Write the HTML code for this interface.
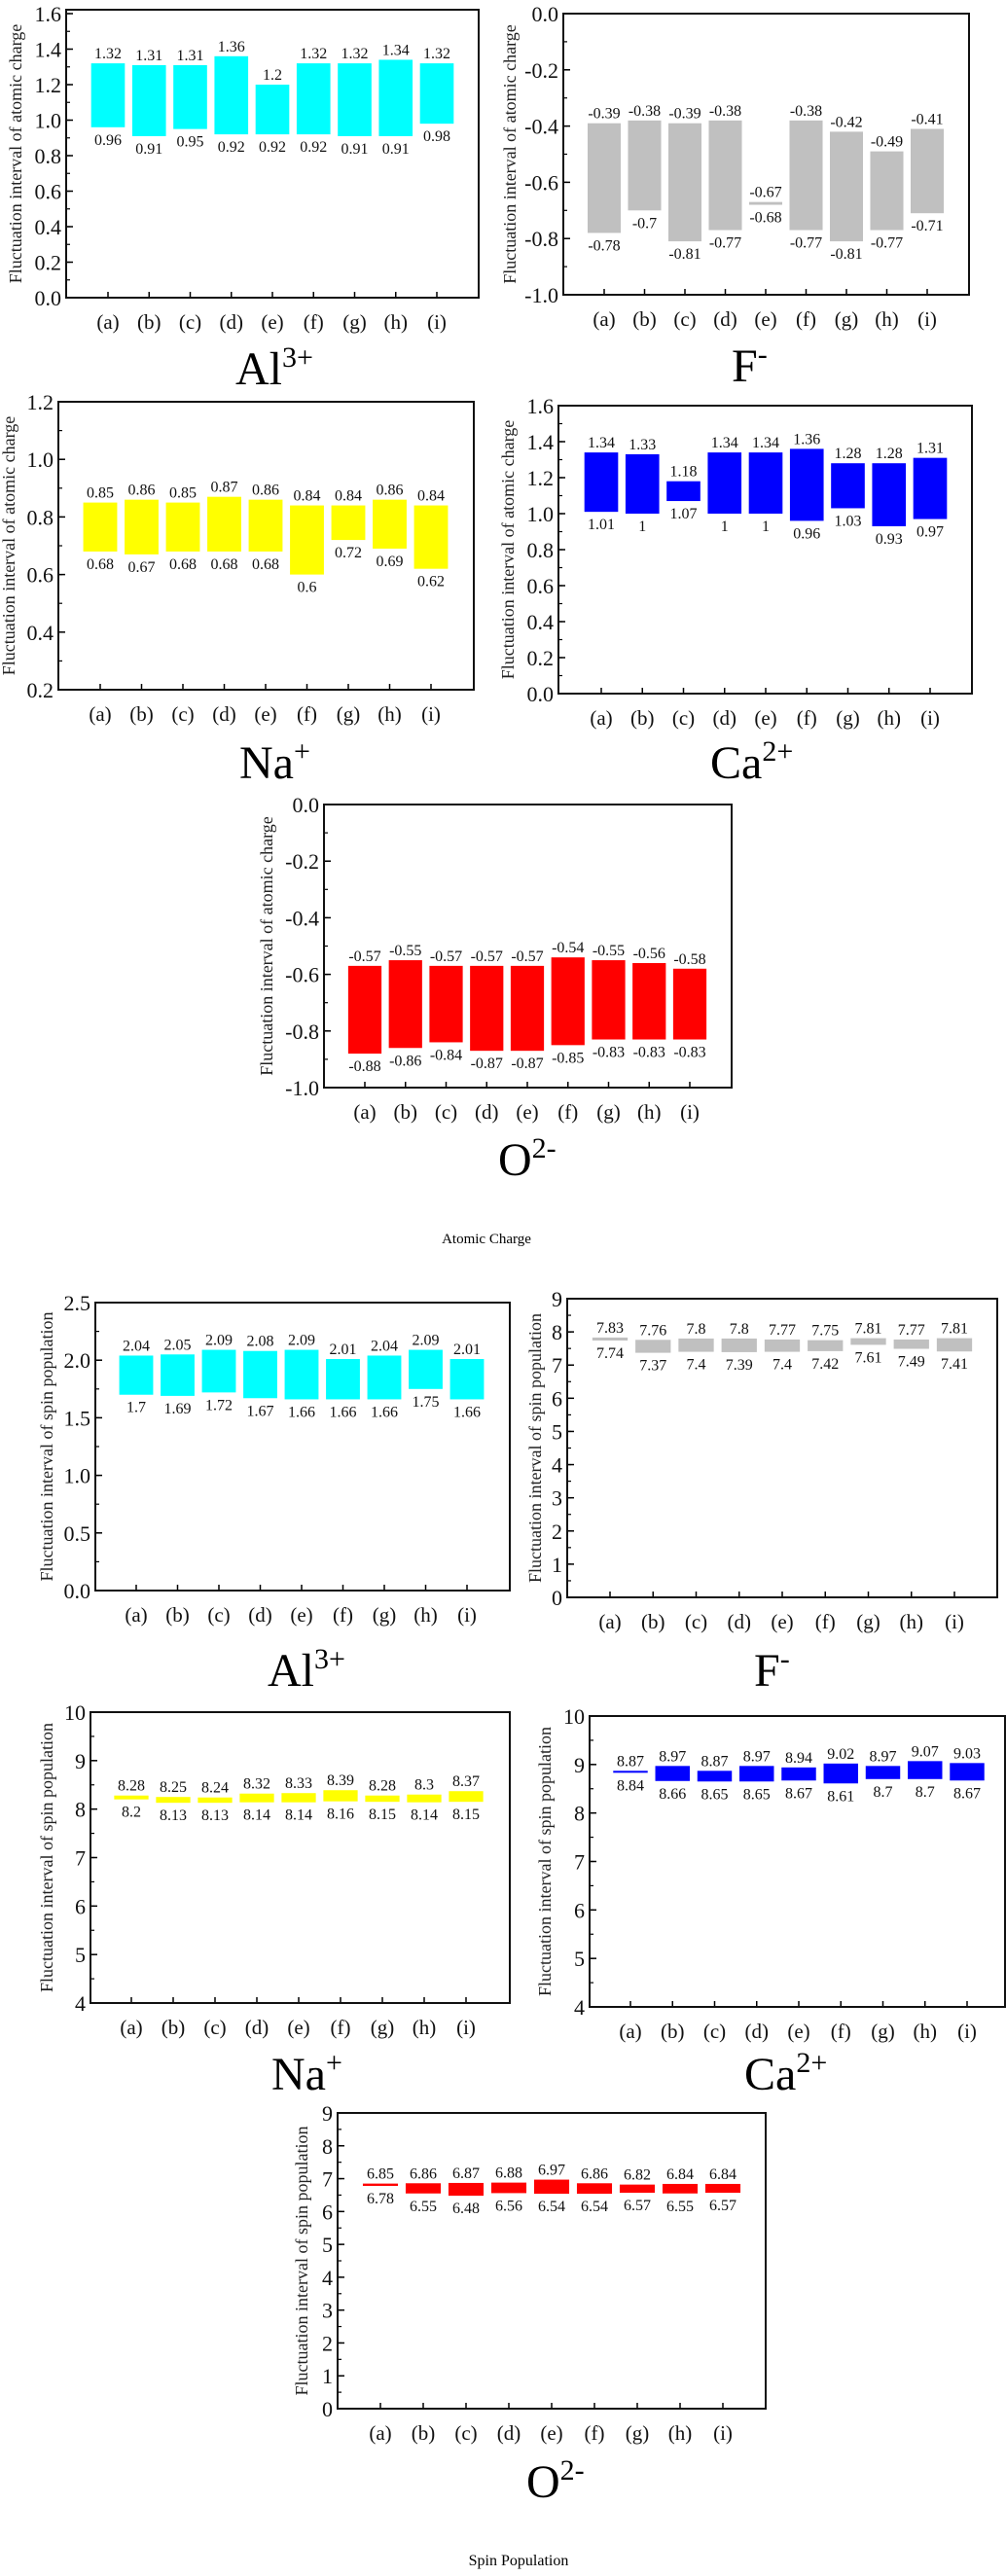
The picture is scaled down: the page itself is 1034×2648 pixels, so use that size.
<!DOCTYPE html>
<html><head><meta charset="utf-8"><style>
html,body{margin:0;padding:0;background:#fff;}
svg{display:block;font-family:"Liberation Serif",serif;}
</style></head><body>
<svg id="fig" width="1034" height="2648" viewBox="0 0 1034 2648" xmlns="http://www.w3.org/2000/svg"></svg>
<script>
const categories = ['(a)','(b)','(c)','(d)','(e)','(f)','(g)','(h)','(i)'];
// Atomic charge
const alChargeHigh = [1.32,1.31,1.31,1.36,1.2,1.32,1.32,1.34,1.32];
const alChargeLow  = [0.96,0.91,0.95,0.92,0.92,0.92,0.91,0.91,0.98];
const fChargeHigh  = [-0.39,-0.38,-0.39,-0.38,-0.67,-0.38,-0.42,-0.49,-0.41];
const fChargeLow   = [-0.78,-0.7,-0.81,-0.77,-0.68,-0.77,-0.81,-0.77,-0.71];
const naChargeHigh = [0.85,0.86,0.85,0.87,0.86,0.84,0.84,0.86,0.84];
const naChargeLow  = [0.68,0.67,0.68,0.68,0.68,0.6,0.72,0.69,0.62];
const caChargeHigh = [1.34,1.33,1.18,1.34,1.34,1.36,1.28,1.28,1.31];
const caChargeLow  = [1.01,1,1.07,1,1,0.96,1.03,0.93,0.97];
const oChargeHigh  = [-0.57,-0.55,-0.57,-0.57,-0.57,-0.54,-0.55,-0.56,-0.58];
const oChargeLow   = [-0.88,-0.86,-0.84,-0.87,-0.87,-0.85,-0.83,-0.83,-0.83];
// Spin population
const alSpinHigh = [2.04,2.05,2.09,2.08,2.09,2.01,2.04,2.09,2.01];
const alSpinLow  = [1.7,1.69,1.72,1.67,1.66,1.66,1.66,1.75,1.66];
const fSpinHigh  = [7.83,7.76,7.8,7.8,7.77,7.75,7.81,7.77,7.81];
const fSpinLow   = [7.74,7.37,7.4,7.39,7.4,7.42,7.61,7.49,7.41];
const naSpinHigh = [8.28,8.25,8.24,8.32,8.33,8.39,8.28,8.3,8.37];
const naSpinLow  = [8.2,8.13,8.13,8.14,8.14,8.16,8.15,8.14,8.15];
const caSpinHigh = [8.87,8.97,8.87,8.97,8.94,9.02,8.97,9.07,9.03];
const caSpinLow  = [8.84,8.66,8.65,8.65,8.67,8.61,8.7,8.7,8.67];
const oSpinHigh  = [6.85,6.86,6.87,6.88,6.97,6.86,6.82,6.84,6.84];
const oSpinLow   = [6.78,6.55,6.48,6.56,6.54,6.54,6.57,6.55,6.57];
// Tick values
const ticksCharge16 = [0,0.2,0.4,0.6,0.8,1.0,1.2,1.4,1.6];
const ticksChargeNeg = [-1.0,-0.8,-0.6,-0.4,-0.2,0.0];
const ticksNa = [0.2,0.4,0.6,0.8,1.0,1.2];
const ticksAlSpin = [0,0.5,1.0,1.5,2.0,2.5];
const ticks0to9 = [0,1,2,3,4,5,6,7,8,9];
const ticks4to10 = [4,5,6,7,8,9,10];

const NS='http://www.w3.org/2000/svg';
const svg=document.getElementById('fig');
function mk(tag,attrs,parent){const e=document.createElementNS(NS,tag);for(const k in attrs)e.setAttribute(k,attrs[k]);(parent||svg).appendChild(e);return e;}

function panel(id, L, hi, lo, ticks, minorStep, dec, color, ytitle){
  const g=mk('g',{});
  
  
  const vmin=ticks[0], vmax=ticks[ticks.length-1];
  const ys=v=>L.y1-(v-vmin)/(vmax-vmin)*(L.y1-L.y0-L.pad);
  const xs=i=>L.c0+i*(L.c1-L.c0)/(categories.length-1);
  const step=(L.c1-L.c0)/(categories.length-1);
  const bw=step*0.82;
  for(let i=0;i<categories.length;i++){
    const yt=ys(Math.max(hi[i],lo[i])), yb=ys(Math.min(hi[i],lo[i]));
    const r=mk('rect',{x:xs(i)-bw/2,y:yt,width:bw,height:Math.max(2,yb-yt),fill:color},g);
    
    
    const t1=mk('text',{x:xs(i),y:yt-5,'font-size':16,'text-anchor':'middle',fill:'#111'},g);
    t1.textContent=String(hi[i]);
    
    
    const t2=mk('text',{x:xs(i),y:Math.max(yb,yt+2)+18,'font-size':16,'text-anchor':'middle',fill:'#111'},g);
    t2.textContent=String(lo[i]);
    
    
    mk('line',{x1:xs(i),x2:xs(i),y1:L.y1,y2:L.y1-6,stroke:'#000','stroke-width':1.5},g);
    const c=mk('text',{x:xs(i),y:L.y1+32,'font-size':21,'text-anchor':'middle',fill:'#111'},g);
    c.textContent=categories[i];
    
    
  }
  for(let v=vmin;v<=vmax+1e-9;v+=minorStep){
    mk('line',{x1:L.x0,x2:L.x0+4,y1:ys(v),y2:ys(v),stroke:'#000','stroke-width':1.2},g);
  }
  ticks.forEach(v=>{
    mk('line',{x1:L.x0,x2:L.x0+7,y1:ys(v),y2:ys(v),stroke:'#000','stroke-width':1.5},g);
    const t=mk('text',{x:L.x0-5,y:ys(v)+8,'font-size':22,'text-anchor':'end',fill:'#111'},g);
    t.textContent=v.toFixed(dec);
    
    
  });
  mk('rect',{x:L.x0,y:L.y0,width:L.x1-L.x0,height:L.y1-L.y0,fill:'none',stroke:'#111','stroke-width':2},g);
  const cy=(L.y0+L.y1)/2;
  const yt=mk('text',{x:L.tx,y:cy,'font-size':18,'text-anchor':'middle',fill:'#222',transform:`rotate(-90 ${L.tx} ${cy})`},g);
  yt.textContent=ytitle;
  
  
}

function title(id, x, y, base, sup){
  const t=mk('text',{x:x,y:y,'font-size':48,'text-anchor':'start',fill:'#000'});
  
  
  const a=mk('tspan',{},t); a.textContent=base;
  const b=mk('tspan',{'font-size':30,dy:-18},t); b.textContent=sup;
}
function caption(id,x,y,txt,fs){
  const t=mk('text',{x:x,y:y,'font-size':fs,'text-anchor':'middle',fill:'#000'});
  t.textContent=txt;
  
  
}

const AC='Fluctuation interval of atomic charge', SP='Fluctuation interval of spin population';
panel('al-charge',{x0:68,x1:492,y0:10,y1:306,pad:4,c0:111,c1:449,tx:22},alChargeHigh,alChargeLow,ticksCharge16,0.1,1,'#00ffff',AC);
panel('f-charge',{x0:579,x1:996,y0:14,y1:303,pad:0,c0:621,c1:953,tx:530},fChargeHigh,fChargeLow,ticksChargeNeg,0.1,1,'#c0c0c0',AC);
panel('na-charge',{x0:60,x1:487,y0:413,y1:709,pad:0,c0:103,c1:443,tx:15},naChargeHigh,naChargeLow,ticksNa,0.1,1,'#ffff00',AC);
panel('ca-charge',{x0:574,x1:999,y0:417,y1:713,pad:0,c0:618,c1:956,tx:528},caChargeHigh,caChargeLow,ticksCharge16,0.1,1,'#0000ff',AC);
panel('o-charge',{x0:333,x1:752,y0:827,y1:1118,pad:0,c0:375,c1:709,tx:280},oChargeHigh,oChargeLow,ticksChargeNeg,0.1,1,'#ff0000',AC);
panel('al-spin',{x0:98,x1:524,y0:1339,y1:1635,pad:0,c0:140,c1:480,tx:54},alSpinHigh,alSpinLow,ticksAlSpin,0.25,1,'#00ffff',SP);
panel('f-spin',{x0:583,x1:1025,y0:1335,y1:1642,pad:0,c0:627,c1:981,tx:556},fSpinHigh,fSpinLow,ticks0to9,0.5,0,'#c0c0c0',SP);
panel('na-spin',{x0:93,x1:524,y0:1760,y1:2059,pad:0,c0:135,c1:479,tx:54},naSpinHigh,naSpinLow,ticks4to10,0.5,0,'#ffff00',SP);
panel('ca-spin',{x0:606,x1:1033,y0:1764,y1:2063,pad:0,c0:648,c1:994,tx:566},caSpinHigh,caSpinLow,ticks4to10,0.5,0,'#0000ff',SP);
panel('o-spin',{x0:347,x1:787,y0:2172,y1:2476,pad:0,c0:391,c1:743,tx:316},oSpinHigh,oSpinLow,ticks0to9,0.5,0,'#ff0000',SP);

title('al-charge-title',242,395,'Al','3+');
title('f-charge-title',752,392,'F','-');
title('na-charge-title',246,800,'Na','+');
title('ca-charge-title',730,800,'Ca','2+');
title('o-charge-title',512,1208,'O','2-');
caption('atomic-charge-caption',500,1278,'Atomic Charge',15);
title('al-spin-title',275,1733,'Al','3+');
title('f-spin-title',775,1733,'F','-');
title('na-spin-title',279,2148,'Na','+');
title('ca-spin-title',765,2148,'Ca','2+');
title('o-spin-title',541,2567,'O','2-');
caption('spin-population-caption',533,2637,'Spin Population',16);
</script>
</body></html>
